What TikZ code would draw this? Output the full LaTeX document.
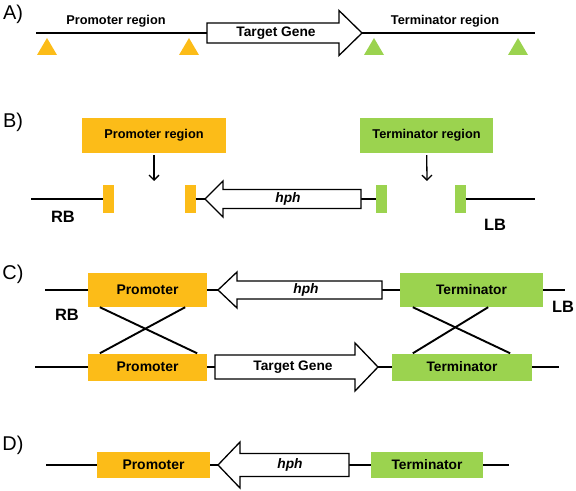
\documentclass[tikz,border=0pt]{standalone}
\usepackage{fontspec}
\setmainfont{Liberation Sans}
\usetikzlibrary{arrows.meta}
\definecolor{prom}{RGB}{252,188,24}
\definecolor{term}{RGB}{155,211,79}
\begin{document}
\begin{tikzpicture}[x=1bp,y=-1bp,
  dna/.style={line width=1.9bp},
  genearrow/.style={draw,line width=1.3bp,fill=white,line join=miter},
  panel/.style={font=\fontsize{20}{22}\selectfont, inner sep=0},
  lbl/.style={font=\bfseries\fontsize{12.8}{14}\selectfont, inner sep=0},
  glbl/.style={font=\bfseries\fontsize{13.8}{15}\selectfont, inner sep=0},
  hlbl/.style={font=\bfseries\itshape\fontsize{13.8}{15}\selectfont, inner sep=0},
  big/.style={font=\bfseries\fontsize{16.5}{18}\selectfont, inner sep=0},
  pbox/.style={fill=prom, inner sep=0, font=\bfseries\fontsize{14}{16}\selectfont},
  tbox/.style={fill=term, inner sep=0, font=\bfseries\fontsize{13.8}{16}\selectfont},
  rbox/.style={inner sep=0, font=\bfseries\fontsize{12.8}{14}\selectfont},
  tick/.style={inner sep=0, minimum width=11bp, minimum height=27bp},
  down/.style={line width=1.3bp, -{Straight Barb[length=5bp,width=10bp]}},
  cross/.style={line width=1.9bp}
]
\useasboundingbox (0,0) rectangle (576,491);

% ---------------- Panel A ----------------
\node[panel] (pA) at (13,14.5) {A)};
\coordinate (a0) at (36,33);
\coordinate (a1) at (535,33);
\coordinate (tgAtail) at (207,33);
\coordinate (tgAtip) at (362,33);
\draw[dna] (a0) -- (tgAtail);
\draw[dna] (tgAtip) -- (a1);
\draw[genearrow] (207,23) -- (339,23) -- (339,10.5) -- (tgAtip) -- (339,55.5) -- (339,43) -- (207,43) -- cycle;
\node[glbl] (tgA) at (276,33) {Target Gene};
\node[lbl] (prA) at (116,21) {Promoter region};
\node[lbl] (trA) at (445,21) {Terminator region};
\fill[prom] (37,55) -- (47,38) -- (57,55) -- cycle;
\fill[prom] (179,55) -- (189,38) -- (199,55) -- cycle;
\fill[term] (364,55) -- (374,38) -- (384,55) -- cycle;
\fill[term] (508,55) -- (518,38) -- (528,55) -- cycle;

% ---------------- Panel B ----------------
\node[panel] (pB) at (13,122) {B)};
\node[rbox, fill=prom, minimum width=144bp, minimum height=35bp] (prB) at (154,135.5) {Promoter region};
\node[rbox, fill=term, minimum width=133bp, minimum height=35bp] (trB) at (426.5,135.5) {Terminator region};
\coordinate (prBend) at (154,181);
\coordinate (trBend) at (427,181);
\draw[down, shorten <=2bp] (prB) -- (prBend);
\draw[down, shorten <=2bp] (trB) -- (trBend);
\node[tick, fill=prom] (pB1) at (108.5,199) {};
\node[tick, fill=prom] (pB2) at (190,199) {};
\node[tick, fill=term] (tB1) at (381.5,199) {};
\node[tick, fill=term] (tB2) at (460,199) {};
\coordinate (bL) at (31,199);
\coordinate (bR) at (535,199);
\coordinate (hBtip) at (205,199);
\coordinate (hBtail) at (361,199);
\draw[dna] (bL) -- (pB1.west);
\draw[dna] (pB2.east) -- (hBtip);
\draw[dna] (hBtail) -- (tB1.west);
\draw[dna] (tB2.east) -- (bR);
\draw[genearrow] (361,189.5) -- (223,189.5) -- (223,181) -- (hBtip) -- (223,217) -- (223,208.5) -- (361,208.5) -- cycle;
\node[hlbl] (hB) at (288,199) {hph};
\node[big] (rbB) at (63,217) {RB};
\node[big] (lbB) at (495,225) {LB};

% ---------------- Panel C ----------------
\node[panel] (pC) at (13,274) {C)};
\node[pbox, minimum width=119bp, minimum height=34bp] (pCu) at (147.5,290) {Promoter};
\node[tbox, minimum width=143bp, minimum height=34bp] (tCu) at (471.5,290) {Terminator};
\node[pbox, minimum width=119bp, minimum height=27bp] (pCl) at (147.5,367) {Promoter};
\node[tbox, minimum width=140bp, minimum height=27bp] (tCl) at (462,367) {Terminator};
\coordinate (cuL) at (45,290);
\coordinate (cuR) at (565,290);
\coordinate (clL) at (35,367);
\coordinate (clR) at (559,367);
\coordinate (hCtip) at (218,290);
\coordinate (hCtail) at (382,290);
\coordinate (tgCtail) at (215,367);
\coordinate (tgCtip) at (378,367);
\draw[dna] (cuL) -- (pCu.west);
\draw[dna] (pCu.east) -- (hCtip);
\draw[dna] (hCtail) -- (tCu.west);
\draw[dna] (tCu.east) -- (cuR);
\draw[dna] (clL) -- (pCl.west);
\draw[dna] (pCl.east) -- (tgCtail);
\draw[dna] (tgCtip) -- (tCl.west);
\draw[dna] (tCl.east) -- (clR);
\draw[genearrow] (382,281) -- (237,281) -- (237,272) -- (hCtip) -- (237,308) -- (237,299) -- (382,299) -- cycle;
\node[hlbl] (hC) at (306,290) {hph};
\draw[genearrow] (215,355) -- (355,355) -- (355,343) -- (tgCtip) -- (355,391) -- (355,379) -- (215,379) -- cycle;
\node[glbl] (tgC) at (293,367) {Target Gene};
\draw[cross] ([xshift=12bp]pCu.south west) -- ([xshift=-10bp]pCl.north east);
\draw[cross] ([xshift=-22bp]pCu.south east) -- ([xshift=12bp]pCl.north west);
\draw[cross] ([xshift=13bp]tCu.south west) -- ([xshift=-22bp]tCl.north east);
\draw[cross] ([xshift=-55bp]tCu.south east) -- ([xshift=21bp]tCl.north west);
\node[big] (rbC) at (67,315) {RB};
\node[big] (lbC) at (563,307) {LB};

% ---------------- Panel D ----------------
\node[panel] (pD) at (13,445) {D)};
\node[pbox, minimum width=113bp, minimum height=26bp] (pD1) at (153.5,465) {Promoter};
\node[tbox, minimum width=112bp, minimum height=26bp] (tD1) at (427,465) {Terminator};
\coordinate (dL) at (46,465);
\coordinate (dR) at (509,465);
\coordinate (hDtip) at (218,465);
\coordinate (hDtail) at (349,465);
\draw[dna] (dL) -- (pD1.west);
\draw[dna] (pD1.east) -- (hDtip);
\draw[dna] (hDtail) -- (tD1.west);
\draw[dna] (tD1.east) -- (dR);
\draw[genearrow] (349,453.5) -- (240,453.5) -- (240,442) -- (hDtip) -- (240,488) -- (240,476.5) -- (349,476.5) -- cycle;
\node[hlbl] (hD) at (290,465) {hph};
\end{tikzpicture}
\end{document}
